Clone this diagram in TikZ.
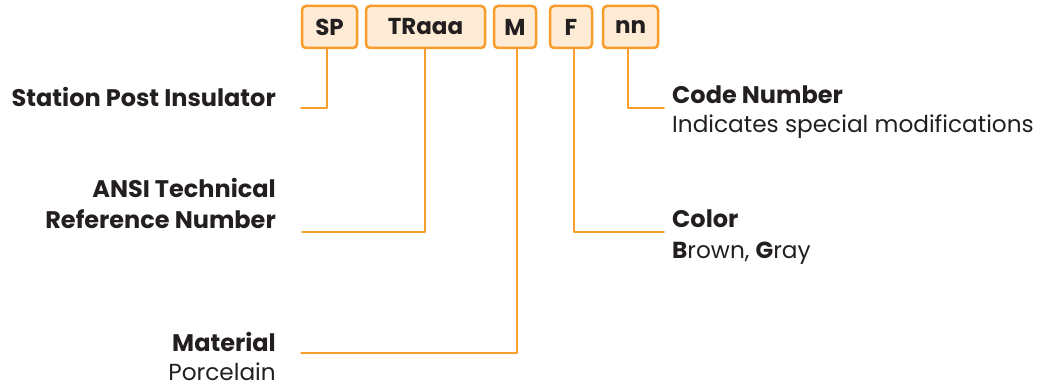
\documentclass[tikz,border=0pt]{standalone}
\usepackage{fontspec}
\setmainfont{Poppins}
\definecolor{codeorange}{HTML}{F89C2B}
\definecolor{codefill}{HTML}{FDEBD5}
\definecolor{inktext}{HTML}{231F20}
\begin{document}
\begin{tikzpicture}[line join=round, line cap=round, x=1pt, y=-1pt]
	\tikzset{every node/.style={text=inktext, font=\fontsize{23.2}{31}\selectfont, inner sep=0pt},
		codebox/.style={draw=codeorange, fill=codefill, line width=2.5pt, rounded corners=4pt,
			minimum height=42pt, font=\fontsize{23}{31}\selectfont\bfseries},
		title/.style={font=\fontsize{24}{31}\selectfont\bfseries},
		leader/.style={draw=codeorange, line width=1.5pt}}
	\useasboundingbox (0,0) rectangle (1044,387);
	% code boxes
	\foreach \nm/\x/\w/\t in {sp/329.5/55/SP, tr/425.5/119/TRaaa, mat/515/42/M, col/571/42/F, num/630.5/55/nn}
	\node[codebox, minimum width=\w pt] (\nm) at (\x,27) {\t};
	% labels on the left
	\node[title, anchor=base east] (splabel) at (276,107) {Station Post Insulator};
	\node[title, anchor=base east, align=right] (trlabel) at (276,229) {ANSI Technical\\Reference Number};
	\node[title, anchor=base east] (matlabel) at (276,351) {Material};
	\node[anchor=base east] (matdesc) at (276,380) {Porcelain};
	% labels on the right
	\node[title, anchor=base west] (numlabel) at (672,104) {Code Number};
	\node[anchor=base west] (numdesc) at (672,133) {Indicates special modifications};
	\node[title, anchor=base west] (collabel) at (672,228) {Color};
	\node[anchor=base west] (coldesc) at (672,259) {\textbf{B}rown, \textbf{G}ray};
	% leaders
	\coordinate (spend) at (301,108);
	\coordinate (trend) at (302,232);
	\coordinate (matend) at (301,353);
	\coordinate (colend) at (664,232);
	\coordinate (numend) at (664,108);
	\draw[leader] ([xshift=-2.5pt]sp.south) |- (spend);
	\draw[leader] ([xshift=-0.5pt]tr.south) |- (trend);
	\draw[leader] ([xshift=2pt]mat.south) |- (matend);
	\draw[leader] ([xshift=3pt]col.south) |- (colend);
	\draw[leader] ([xshift=-2.5pt]num.south) |- (numend);
\end{tikzpicture}
\end{document}
